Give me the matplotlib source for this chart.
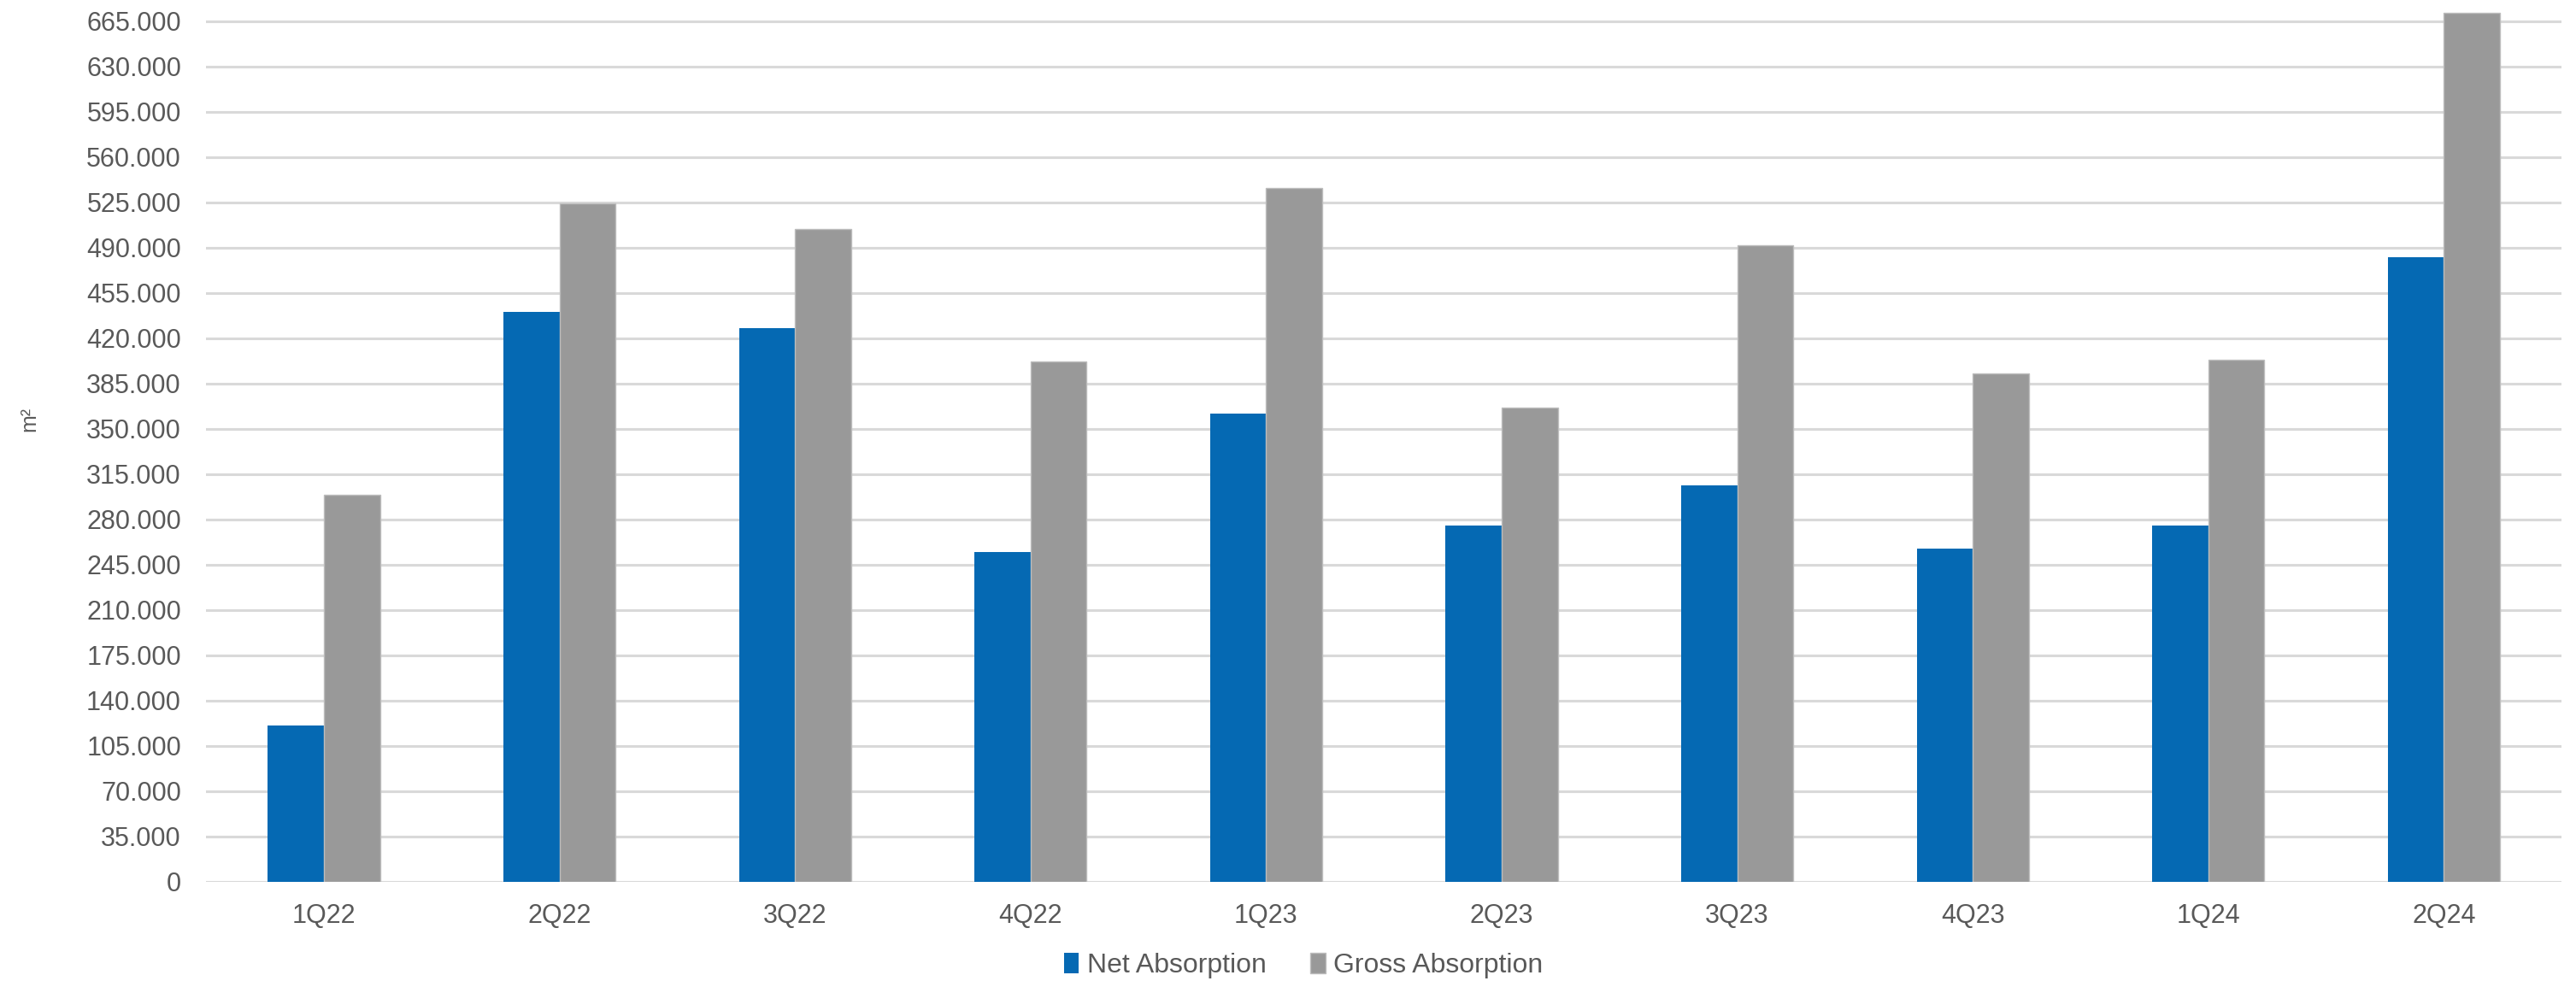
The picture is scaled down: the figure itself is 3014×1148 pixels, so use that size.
import matplotlib.pyplot as plt
import numpy as np
from matplotlib.ticker import FuncFormatter

plt.rcParams['font.family'] = ['Liberation Sans', 'DejaVu Sans']

# Quarterly absorption (m²)
quarters = ["1Q22", "2Q22", "3Q22", "4Q22", "1Q23", "2Q23", "3Q23", "4Q23", "1Q24", "2Q24"]
net_absorption = [120500, 440000, 428000, 255000, 361500, 275500, 306500, 257500, 275000, 482500]
gross_absorption = [299000, 524000, 504500, 402000, 536000, 366000, 492000, 393000, 403000, 671500]

blue = '#0569B3'
grey = '#999999'
text_grey = '#595959'

fig = plt.figure(figsize=(30.14, 11.48), dpi=100)
ax = fig.add_axes([0.080, 0.1013, 0.9144, 0.8987])

x = np.arange(len(quarters))
w = 0.238
ax.bar(x - w / 2, net_absorption, w, color=blue, label='Net Absorption', zorder=3)
ax.bar(x + w / 2, gross_absorption, w, color=grey, edgecolor='#BDBDBD', linewidth=1,
       label='Gross Absorption', zorder=3)

ax.set_xlim(-0.5, len(quarters) - 0.5)
ax.set_ylim(0, 681300)
ax.set_yticks(np.arange(0, 665001, 35000))
ax.yaxis.set_major_formatter(FuncFormatter(lambda v, p: f"{int(v):,}".replace(",", ".")))
ax.set_xticks(x)
ax.set_xticklabels(quarters)

ax.grid(axis='y', color='#D9D9D9', linewidth=2.2, zorder=0)
for s in ax.spines.values():
    s.set_visible(False)
ax.tick_params(axis='both', length=0, labelsize=22, labelcolor=text_grey)
ax.tick_params(axis='y', pad=21)
ax.tick_params(axis='x', pad=18)

# unit label on the left
fig.text(0.0115, 0.573, 'm²', rotation=90, fontsize=18, color=text_grey,
         ha='center', va='center')

fig.legend(loc='center', bbox_to_anchor=(0.506, 0.0155), ncol=2, frameon=False,
           fontsize=23, labelcolor=text_grey, handlelength=0.55, handleheight=0.8,
           handletextpad=0.3, columnspacing=1.6)

fig.savefig('out.png', dpi=100)
